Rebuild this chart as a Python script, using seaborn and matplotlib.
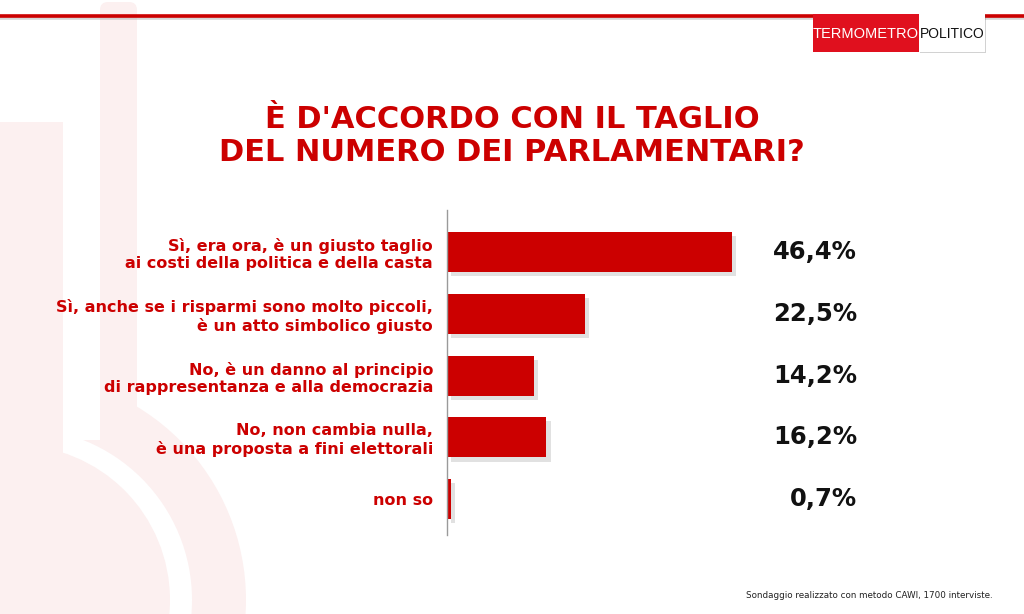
import matplotlib
matplotlib.use("Agg")
import matplotlib.pyplot as plt
import matplotlib.patches as mpatches
import matplotlib.patheffects as pe
import seaborn as sns
import pandas as pd

categories = [
    "Sì, era ora, è un giusto taglio\nai costi della politica e della casta",
    "Sì, anche se i risparmi sono molto piccoli,\nè un atto simbolico giusto",
    "No, è un danno al principio\ndi rappresentanza e alla democrazia",
    "No, non cambia nulla,\nè una proposta a fini elettorali",
    "non so",
]
values = [46.4, 22.5, 14.2, 16.2, 0.7]
value_labels = ["46,4%", "22,5%", "14,2%", "16,2%", "0,7%"]
title = "È D'ACCORDO CON IL TAGLIO\nDEL NUMERO DEI PARLAMENTARI?"
footer = "Sondaggio realizzato con metodo CAWI, 1700 interviste."

RED = "#cc0000"
PALE = "#fcf0f0"

sns.set_theme(style="white")
plt.rcParams["font.family"] = ["DejaVu Sans"]

fig = plt.figure(figsize=(10.24, 6.14), dpi=100)
fig.patch.set_facecolor("white")

# background decoration axes (pixel coordinates)
bg = fig.add_axes([0, 0, 1, 1], zorder=0)
bg.set_xlim(0, 1024)
bg.set_ylim(614, 0)
bg.axis("off")
# watermark thermometer shape
bg.add_patch(mpatches.Circle((20, 600), 226, color=PALE, lw=0))
bg.add_patch(mpatches.Circle((20, 600), 172, color="white", lw=0))
bg.add_patch(mpatches.Rectangle((63, 0), 37, 440, color="white", lw=0))
bg.add_patch(mpatches.FancyBboxPatch((100, 2), 37, 420, boxstyle="round,pad=0,rounding_size=8",
                                     color=PALE, lw=0))
bg.add_patch(mpatches.Circle((15, 600), 155, color=PALE, lw=0))
bg.add_patch(mpatches.Rectangle((0, 122), 63, 400, color=PALE, lw=0))
bg.add_patch(mpatches.Rectangle((137, 0), 40, 380, color="white", lw=0))
# top red line
bg.plot([0, 1024], [15.5, 15.5], color=RED, lw=2.6, solid_capstyle="butt",
        path_effects=[pe.SimpleLineShadow(offset=(0, -1.5), shadow_color="#999999", alpha=0.4), pe.Normal()])
# logo
bg.add_patch(mpatches.Rectangle((813, 14), 106, 38, color="#e0101e", lw=0, zorder=3))
bg.add_patch(mpatches.Rectangle((919, 14), 66, 38, color="white", lw=0, zorder=3,
                                path_effects=[pe.SimplePatchShadow(offset=(1, -1), alpha=0.25), pe.Normal()]))
bg.text(866, 34, "TERMOMETRO", color="white", fontsize=10.5, ha="center", va="center",
        family=["Liberation Sans"], zorder=4)
bg.text(952, 34, "POLITICO", color="#111111", fontsize=10, ha="center", va="center",
        family=["Liberation Sans"], zorder=4)
# title
bg.text(512, 136, title, color=RED, fontsize=22, fontweight="bold", ha="center", va="center",
        linespacing=1.2)
# footer
bg.text(993, 596, footer, color="#222222", fontsize=6.3, ha="right", va="center")

# main chart
ax = fig.add_axes([447 / 1024, 1 - 535 / 614, (857 - 447) / 1024, (535 - 210) / 614], zorder=2)
ax.patch.set_alpha(0)
df = pd.DataFrame({"cat": categories, "val": values})
sns.barplot(data=df, y="cat", x="val", orient="h", color=RED, saturation=1, width=0.65, ax=ax)
for p in ax.patches:
    p.set_path_effects([pe.SimplePatchShadow(offset=(3, -3), shadow_rgbFace="#aaaaaa", alpha=0.35), pe.Normal()])
    p.set_edgecolor("none")

xmax = 66.8
ax.set_xlim(0, xmax)
ax.set_ylim(4.58, -0.68)
for i, lab in enumerate(value_labels):
    ax.text(xmax, i, lab, ha="right", va="center", fontsize=17.5, fontweight="bold", color="#111111")

ax.set_xlabel("")
ax.set_ylabel("")
ax.set_xticks([])
ax.tick_params(axis="y", length=0, pad=10)
for t in ax.get_yticklabels():
    t.set_color(RED)
    t.set_fontweight("bold")
    t.set_fontsize(11.5)
    t.set_multialignment("right")
    t.set_linespacing(1.2)
for s in ["top", "right", "bottom"]:
    ax.spines[s].set_visible(False)
ax.spines["left"].set_color("#9a9a9a")
ax.spines["left"].set_linewidth(1)

fig.savefig("out.png", dpi=100, facecolor="white")
